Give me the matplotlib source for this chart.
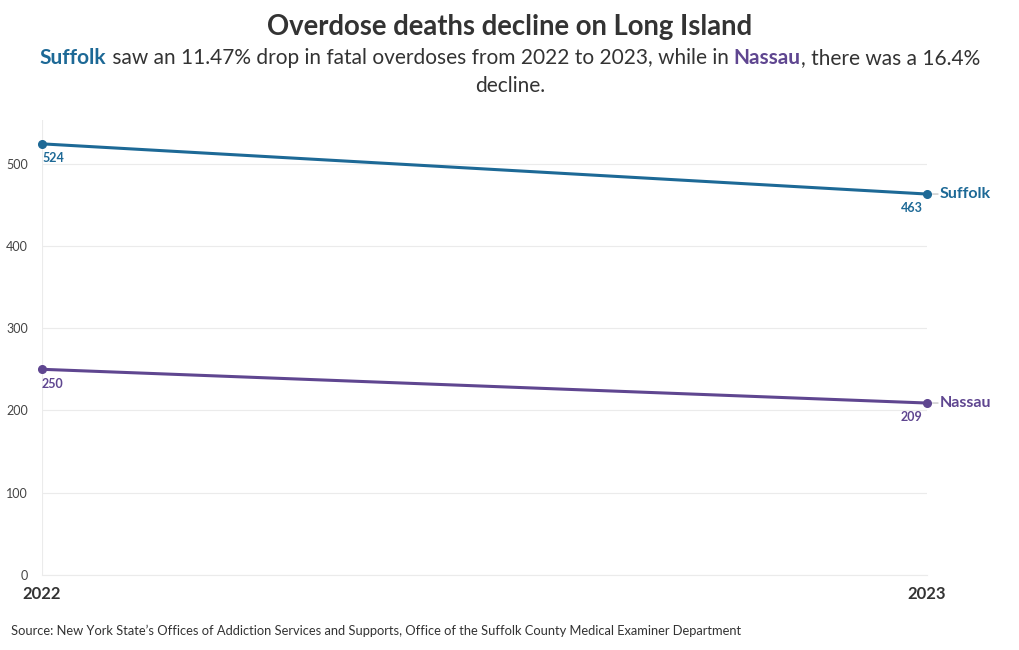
import numpy as np
import matplotlib
matplotlib.use("Agg")
import matplotlib.pyplot as plt

plt.rcParams['font.family'] = ['Lato', 'DejaVu Sans']

years = ['2022', '2023']
suffolk = [524, 463]
nassau = [250, 209]
yticks = [0, 100, 200, 300, 400, 500]

c_suf = '#1d6996'
c_nas = '#5f4690'
c_txt = '#333333'

fig = plt.figure(figsize=[10.2, 6.5], dpi=100)
ax = fig.add_axes([0.0412, 0.1154, 0.8676, 0.70])

x = np.arange(len(years))
for vals, col, name in [(suffolk, c_suf, 'Suffolk'), (nassau, c_nas, 'Nassau')]:
    ax.plot(x, vals, color=col, lw=2.2, marker='o', ms=5.5, clip_on=False, zorder=3)
    ax.annotate(str(vals[0]), (x[0], vals[0]), xytext=(0, -6), textcoords='offset points',
                ha='left', va='top', color=col, fontsize=9, fontweight='bold')
    ax.annotate(str(vals[1]), (x[1], vals[1]), xytext=(-3, -6), textcoords='offset points',
                ha='right', va='top', color=col, fontsize=9, fontweight='bold')
    ax.annotate(name, (x[1], vals[1]), xytext=(9, 0), textcoords='offset points',
                ha='left', va='center', color=col, fontsize=11.5, fontweight='bold')
    ax.annotate('', (x[1], vals[1]), xytext=(8, 0), textcoords='offset points',
                arrowprops=dict(arrowstyle='-', color='#bbbbbb', lw=0.8, shrinkA=0, shrinkB=4))

ax.set_xlim(0, 1)
ax.set_ylim(0, 553)
ax.set_yticks(yticks)
ax.set_xticks(x)
ax.set_xticklabels(years, fontsize=12, fontweight='bold', color=c_txt)
ax.tick_params(axis='y', length=0, labelsize=9, labelcolor='#444444', pad=10)
ax.tick_params(axis='x', length=0, pad=8)
ax.grid(axis='y', color='#ebebeb', lw=0.8)
ax.axvline(0, color='#ebebeb', lw=0.8, zorder=0)
ax.set_axisbelow(True)
for s in ax.spines.values():
    s.set_visible(False)
ax.plot([0, 1], [0, 0], color='#ebebeb', lw=0.8, clip_on=False, zorder=0, transform=ax.get_yaxis_transform())

fig.text(0.5, 0.958, 'Overdose deaths decline on Long Island', ha='center', va='center',
         fontsize=19.8, fontweight='bold', color=c_txt)

# subtitle with coloured words, laid out piece by piece
pieces = [('Suffolk', c_suf, 'bold'),
          (' saw an 11.47% drop in fatal overdoses from 2022 to 2023, while in ', c_txt, 'normal'),
          ('Nassau', c_nas, 'bold'),
          (', there was a 16.4%', c_txt, 'normal')]
fig.canvas.draw()
r = fig.canvas.get_renderer()
texts = []
for s, col, w in pieces:
    texts.append(fig.text(0, 0.91, s, ha='left', va='center', fontsize=15, color=col, fontweight=w))
widths = [t.get_window_extent(r).width for t in texts]
total = sum(widths)
xpos = (fig.bbox.width - total) / 2
for t, wd in zip(texts, widths):
    t.set_x(xpos / fig.bbox.width)
    xpos += wd
fig.text(0.5, 0.868, 'decline.', ha='center', va='center', fontsize=15, color=c_txt)

fig.text(0.011, 0.029, "Source: New York State\u2019s Offices of Addiction Services and Supports, Office of the Suffolk County Medical Examiner Department",
         ha='left', va='center', fontsize=9.3, color=c_txt)

fig.savefig('out.png', dpi=100)
